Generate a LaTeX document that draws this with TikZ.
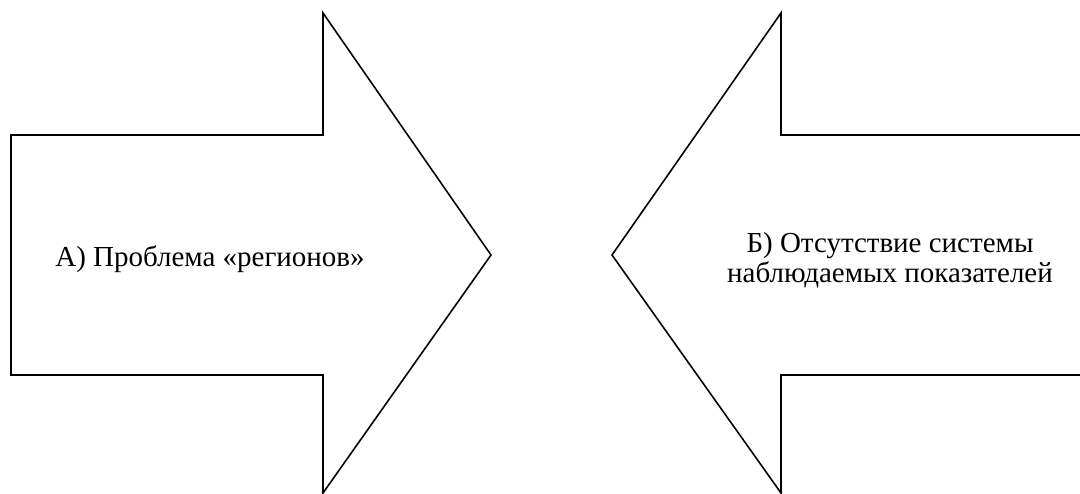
\documentclass[tikz,border=0pt]{standalone}
\usepackage{fontspec}
\setmainfont{Liberation Serif}
\usetikzlibrary{positioning}

\begin{document}
\begin{tikzpicture}[x=0.02cm,y=-0.02cm,
  bigarrow/.style={draw=black,line width=0.9pt,fill=white,line join=miter},
  label/.style={font=\fontsize{16.5}{17}\selectfont,align=center,inner sep=0pt}
]

% Рамка рисунка
\clip (0,0) rectangle (1080,494);
\useasboundingbox (0,0) rectangle (1080,494);

% Стрелка А (вправо)
\draw[bigarrow] (11,135) -- (323,135) -- (323,13) -- (491,255)
  -- (323,493) -- (323,375) -- (11,375) -- cycle;

% Стрелка Б (влево)
\draw[bigarrow] (1095,135) -- (781,135) -- (781,13) -- (612,255)
  -- (781,493) -- (781,375) -- (1095,375);

% Подписи
\node[label] (probA) at (210,259) {А) Проблема «регионов»};
\node[label] (probB) at (890,260) {Б) Отсутствие системы\\наблюдаемых показателей};

\end{tikzpicture}
\end{document}
